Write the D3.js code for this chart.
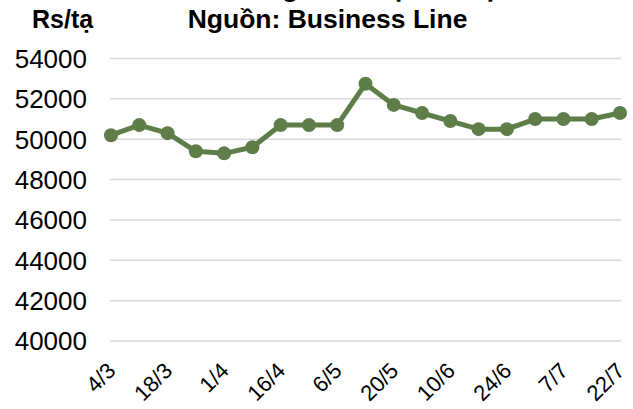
<!DOCTYPE html>
<html>
<head>
<meta charset="utf-8">
<script src="https://cdn.jsdelivr.net/npm/d3@7"></script>
<style>
  body { margin: 0; background: #fff; }
  svg { display: block; font-family: "Liberation Sans", Arial, sans-serif; }
</style>
</head>
<body>
<svg id="chart" width="633" height="409"></svg>
<script>
// giá tiêu Ấn Độ, Rs/tạ
const dates = ["4/3","","18/3","","1/4","","16/4","","6/5","","20/5","","10/6","","24/6","","7/7","","22/7"];
const prices = [50200, 50700, 50300, 49400, 49300, 49600, 50700, 50700, 50700, 52750,
                51700, 51300, 50900, 50500, 50500, 51000, 51000, 51000, 51300];
const yTicks = [40000, 42000, 44000, 46000, 48000, 50000, 52000, 54000];
const titleTop = "Diễn biến giá tiêu tại Ấn Độ";
const titleSub = "Nguồn: Business Line";
const unit = "Rs/tạ";

const svg = d3.select("#chart");
const green = "#5e7d48";

let x = d3.scalePoint().domain(d3.range(prices.length)).range([111, 620]);
let y = d3.scaleLinear().domain([40000, 54000]).range([341, 58.5]);

// gridlines
svg.append("g").selectAll("line").data(yTicks)
    .join("line")
    .attr("x1", 110).attr("x2", 621)
    .attr("y1", d => y(d)).attr("y2", d => y(d))
    .attr("stroke", "#d9d9d9").attr("stroke-width", 1.5);

// y labels
svg.append("g").selectAll("text").data(yTicks)
    .join("text")
    .attr("x", 87).attr("y", d => y(d))
    .attr("dy", "0.36em")
    .attr("text-anchor", "end")
    .attr("font-size", 26)
    .attr("fill", "#000")
    .text(d => d);

// x labels, rotated
svg.append("g").selectAll("text").data(dates)
    .join("text")
    .attr("transform", (d, i) => "translate(" + (x(i) + 6) + ",372) rotate(-45)")
    .attr("text-anchor", "end")
    .attr("font-size", 22)
    .attr("fill", "#000")
    .text(d => d);

// line + markers
let line = d3.line().x((d, i) => x(i)).y(d => y(d));
svg.append("path").datum(prices)
    .attr("d", line)
    .attr("fill", "none")
    .attr("stroke", green)
    .attr("stroke-width", 5)
    .attr("stroke-linejoin", "round");
svg.append("g").selectAll("circle").data(prices)
    .join("circle")
    .attr("cx", (d, i) => x(i)).attr("cy", d => y(d))
    .attr("r", 7)
    .attr("fill", green);

// titles
svg.append("text").attr("x", 327).attr("y", -3)
    .attr("text-anchor", "middle").attr("font-weight", "bold").attr("font-size", 26.5)
    .text(titleTop);
svg.append("text").attr("x", 327.5).attr("y", 28)
    .attr("text-anchor", "middle").attr("font-weight", "bold").attr("font-size", 26.5)
    .text(titleSub);
svg.append("text").attr("x", 32).attr("y", 28)
    .attr("font-weight", "bold").attr("font-size", 25)
    .text(unit);
</script>
</body>
</html>
